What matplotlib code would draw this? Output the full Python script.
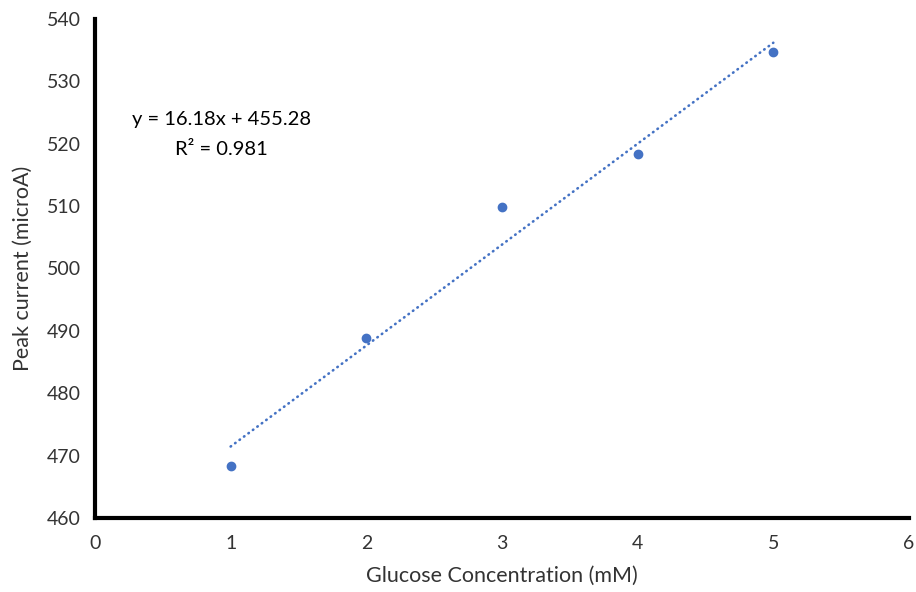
import matplotlib.pyplot as plt
import numpy as np

# glucose calibration data
conc = [1, 2, 3, 4, 5]
peak_current = [468.4, 488.8, 509.9, 518.4, 534.7]

# linear trendline reported on the chart
slope = 16.18
intercept = 455.28
r_squared = 0.981

blue = '#4472C4'

plt.rcParams['font.family'] = ['Lato', 'DejaVu Sans']

fig = plt.figure(figsize=(9.16, 5.92), dpi=100)
ax = fig.add_axes([0.1037, 0.125, 0.8886, 0.843])

# trendline
xt = np.array([conc[0], conc[-1]])
ax.plot(xt, slope * xt + intercept, linestyle=(0, (0.2, 1.9)), color=blue,
        linewidth=1.9, dash_capstyle='round', zorder=2)

# data points
ax.plot(conc, peak_current, 'o', color=blue, markersize=6, zorder=3)

ax.set_xlim(0, 6)
ax.set_ylim(460, 540)
ax.set_xticks(range(0, 7))
ax.set_yticks(range(460, 541, 10))

for side in ['top', 'right']:
    ax.spines[side].set_visible(False)
for side in ['left', 'bottom']:
    ax.spines[side].set_linewidth(3)
    ax.spines[side].set_color('black')

ax.tick_params(length=0, labelsize=14, pad=10, colors='#333333')
ax.tick_params(axis='x', pad=12)

ax.set_xlabel('Glucose Concentration (mM)', fontsize=15.5, color='#333333', labelpad=10)
ax.set_ylabel('Peak current (microA)', fontsize=15.5, color='#333333', labelpad=10)

fig.text(0.242, 0.773, 'y = {:.2f}x + {:.2f}\nR² = {:.3f}'.format(slope, intercept, r_squared),
         ha='center', va='center', fontsize=14.5, color='black', multialignment='center',
         linespacing=1.9)

fig.savefig('out.png', dpi=100)
